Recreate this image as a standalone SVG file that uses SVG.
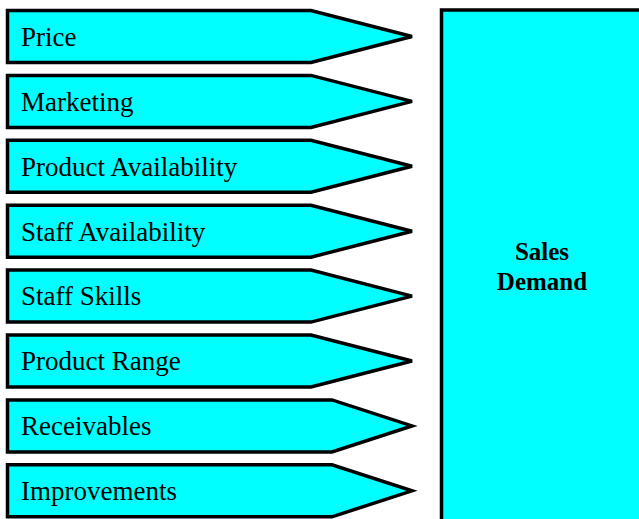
<svg xmlns="http://www.w3.org/2000/svg" width="639" height="519" viewBox="0 0 639 519">
<style>
.shape{fill:#00ffff;stroke:#000;stroke-width:3.5;stroke-linejoin:miter}
.lbl{font-family:"Liberation Serif","Times New Roman",serif;font-size:27px;fill:#000}
.big{font-family:"Liberation Serif","Times New Roman",serif;font-size:25px;font-weight:bold;fill:#000;text-anchor:middle}
</style>
<rect width="639" height="519" fill="#fff"/>
<g id="price"><path class="shape" d="M7.5,10.5 H311 L412,36.5 L311,62.5 H7.5 Z"/><text class="lbl" x="21" y="46">Price</text></g>
<g id="marketing"><path class="shape" d="M7.5,75.4 H311 L412,101.4 L311,127.4 H7.5 Z"/><text class="lbl" x="21" y="110.9">Marketing</text></g>
<g id="product-availability"><path class="shape" d="M7.5,140.3 H311 L412,166.3 L311,192.3 H7.5 Z"/><text class="lbl" x="21" y="175.7">Product Availability</text></g>
<g id="staff-availability"><path class="shape" d="M7.5,205.2 H311 L412,231.2 L311,257.2 H7.5 Z"/><text class="lbl" x="21" y="240.5">Staff Availability</text></g>
<g id="staff-skills"><path class="shape" d="M7.5,270.1 H311 L412,296.1 L311,322.1 H7.5 Z"/><text class="lbl" x="21" y="305.4">Staff Skills</text></g>
<g id="product-range"><path class="shape" d="M7.5,335 H311 L412,361 L311,387 H7.5 Z"/><text class="lbl" x="21" y="370.2">Product Range</text></g>
<g id="receivables"><path class="shape" d="M7.5,399.9 H332 L412,425.9 L332,451.9 H7.5 Z"/><text class="lbl" x="21" y="435.2">Receivables</text></g>
<g id="improvements"><path class="shape" d="M7.5,464.8 H332 L412,490.8 L332,516.8 H7.5 Z"/><text class="lbl" x="21" y="500">Improvements</text></g>
<g id="sales-demand"><rect class="shape" x="441.5" y="10" width="220" height="530"/><text class="big" x="542" y="260">Sales</text><text class="big" x="542" y="290">Demand</text></g>
<g id="connectors"></g>
</svg>
